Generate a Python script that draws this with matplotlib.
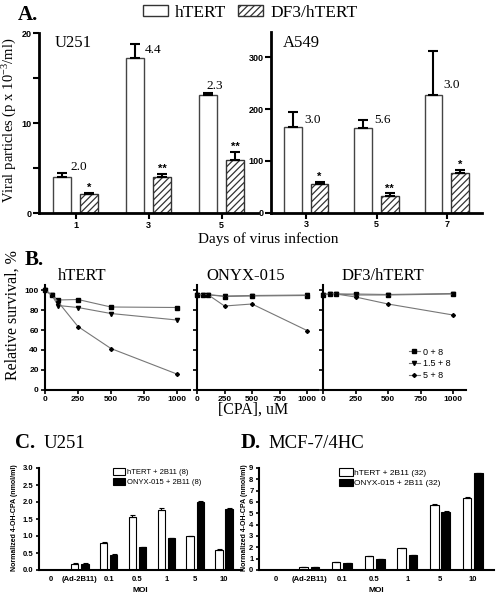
import numpy as np
import matplotlib
matplotlib.use('Agg')
import matplotlib.pyplot as plt
from matplotlib.patches import Patch
from matplotlib.lines import Line2D

plt.rcParams['font.family'] = 'Liberation Serif'
plt.rcParams['mathtext.default'] = 'regular'
plt.rcParams['hatch.linewidth'] = 0.9
SANS = 'Liberation Sans'

# ---- panel A: viral particles ----
u251_days = [1, 3, 5]
u251_htert = [4.0, 17.3, 13.1]
u251_htert_err = [0.5, 1.5, 0.3]
u251_df3 = [2.1, 4.0, 5.9]
u251_df3_err = [0.15, 0.4, 0.9]
u251_ratio = ['2.0', '4.4', '2.3']
u251_stars = ['*', '**', '**']

a549_days = [3, 5, 7]
a549_htert = [165, 163, 227]
a549_htert_err = [29, 16, 85]
a549_df3 = [56, 31, 77]
a549_df3_err = [3, 6, 6]
a549_ratio = ['3.0', '5.6', '3.0']
a549_stars = ['*', '**', '*']

# ---- panel B: relative survival ----
cpa = [0, 50, 100, 250, 500, 1000]
survival = {
    'hTERT': ([100, 95, 90, 90.5, 83, 82.5],
              [100, 95, 84.5, 82.5, 76.5, 70],
              [100, 95, 88, 63.5, 41.5, 16]),
    'ONYX-015': ([95.3, 95.3, 95.3, 93.5, 94, 94.5],
                 [95.3, 95.3, 95.3, 94, 94.5, 95],
                 [95.3, 95.3, 95.3, 84, 86, 59.5]),
    'DF3/hTERT': ([95.5, 96, 96, 96, 95.5, 96.5],
                  [95.5, 96, 96, 95, 95, 96],
                  [95.5, 96, 96, 93, 86, 75]),
}
dose_labels = ['0 + 8', '1.5 + 8', '5 + 8']

# ---- panels C, D: 4-OH-CPA ----
moi = ['0', '(Ad-2B11)', '0.1', '0.5', '1', '5', '10']
c_htert = [0, 0.19, 0.80, 1.57, 1.77, 0.99, 0.60]
c_htert_err = [0, 0.01, 0.01, 0.04, 0.05, 0.01, 0.03]
c_onyx = [0, 0.19, 0.45, 0.68, 0.93, 2.01, 1.80]
c_onyx_err = [0, 0.01, 0.01, 0.01, 0.01, 0.01, 0.01]
d_htert = [0, 0.28, 0.72, 1.2, 1.92, 5.7, 6.38]
d_htert_err = [0, 0.02, 0.03, 0.03, 0.05, 0.1, 0.04]
d_onyx = [0, 0.25, 0.6, 0.96, 1.32, 5.15, 8.55]
d_onyx_err = [0, 0.02, 0.02, 0.02, 0.02, 0.08, 0.05]

W, H = 496, 602
fig = plt.figure(figsize=(W / 100, H / 100), dpi=100)


def rect(l, t, r, b):
    return [l / W, 1 - b / H, (r - l) / W, (b - t) / H]


def style_axes(ax, lw):
    for s in ['top', 'right']:
        ax.spines[s].set_visible(False)
    for s in ['left', 'bottom']:
        ax.spines[s].set_linewidth(lw)


def tick_font(ax, size):
    for lab in ax.get_xticklabels() + ax.get_yticklabels():
        lab.set_fontfamily(SANS)
        lab.set_fontweight('bold')
        lab.set_fontsize(size)


def viral_panel(ax, days, htert, herr, df3, derr, ratios, stars, label_dx, label_y):
    x = np.array(days, dtype=float)
    n = len(days)
    ax.bar(x - 0.38, htert, 0.5, color='white', edgecolor='#444444', lw=1,
           yerr=[np.zeros(n), herr], capsize=3.5,
           error_kw=dict(elinewidth=1.5, capthick=1.5, ecolor='black'))
    ax.bar(x + 0.38, df3, 0.5, color='white', edgecolor='#333333', lw=1, hatch='/////',
           yerr=[np.zeros(n), derr], capsize=3.5,
           error_kw=dict(elinewidth=1.5, capthick=1.5, ecolor='black'))
    for i in range(n):
        ax.text(x[i] + label_dx[i], label_y[i], ratios[i], fontsize=9.5,
                ha='left', va='center')
        ax.text(x[i] + 0.38, df3[i] + derr[i], stars[i], fontsize=8,
                fontfamily=SANS, fontweight='bold', ha='center', va='bottom')
    style_axes(ax, 2)
    ax.tick_params(axis='both', width=1.5, length=4, pad=1.5)
    ax.set_xticks(days)


# A - U251
axA1 = fig.add_axes(rect(39, 33.3, 258, 213.3))
viral_panel(axA1, u251_days, u251_htert, u251_htert_err, u251_df3, u251_df3_err,
            u251_ratio, u251_stars, [-0.13, -0.1, -0.4], [5.1, 18.1, 14.1])
axA1.set_xlim(0, 6)
axA1.set_ylim(0, 20)
axA1.set_yticks([0, 10, 20])
axA1.set_yticks([5, 15], minor=True)
axA1.tick_params(axis='y', which='minor', width=1.5, length=4)
tick_font(axA1, 6.5)

# A - A549
axA2 = fig.add_axes(rect(271, 31.5, 482, 212.5))
viral_panel(axA2, a549_days, a549_htert, a549_htert_err, a549_df3, a549_df3_err,
            a549_ratio, a549_stars, [-0.05, -0.05, -0.1], [179, 179, 246])
axA2.set_xlim(2, 8)
axA2.set_ylim(0, 350)
axA2.set_yticks([0, 100, 200, 300])
tick_font(axA2, 6.5)

fig.text(18 / W, 1 - 15 / H, 'A.', fontsize=15, fontweight='bold', va='center', ha='left')
fig.text(55 / W, 1 - 43 / H, 'U251', fontsize=12, va='center', ha='left')
fig.text(283 / W, 1 - 43 / H, 'A549', fontsize=12, va='center', ha='left')
fig.text(268 / W, 1 - 239 / H, 'Days of virus infection', fontsize=11,
         ha='center', va='center')
fig.text(10 / W, 1 - 120 / H, 'Viral particles (p x 10$^{-3}$/ml)', fontsize=10.5,
         rotation=90, ha='center', va='center')
handles_a = [Patch(facecolor='white', edgecolor='#333333', lw=1),
             Patch(facecolor='white', edgecolor='#333333', lw=1, hatch='/////')]
fig.legend(handles_a, ['hTERT', 'DF3/hTERT'], loc='center', ncol=2,
           bbox_to_anchor=(250 / W, 1 - 13 / H), frameon=False, fontsize=12.5,
           handlelength=1.45, handleheight=0.6, handletextpad=0.4, columnspacing=0.7,
           borderpad=0)

# B - survival
b_rects = [(45, 190), (197, 318), (323, 466)]
b_title_x = [82, 246, 383]
markers = ['s', 'v', 'D']
msizes = [3.0, 3.0, 2.0]
for k, (name, (l, r)) in enumerate(zip(survival, b_rects)):
    ax = fig.add_axes(rect(l, 285, r, 390))
    for series, m, ms in zip(survival[name], markers, msizes):
        ax.plot(cpa, series, color='#777777', lw=0.8, marker=m, ms=ms,
                mfc='black', mec='black', clip_on=False)
    ax.set_xlim(0, 1100)
    ax.set_ylim(0, 105)
    ax.set_xticks([0, 250, 500, 750, 1000])
    ax.set_yticks([0, 20, 40, 60, 80, 100])
    style_axes(ax, 1.5)
    ax.tick_params(axis='both', width=1.2, length=3, pad=1.5)
    if k > 0:
        ax.set_yticklabels([])
    tick_font(ax, 6)
    fig.text(b_title_x[k] / W, 1 - 276 / H, name, fontsize=12,
             ha='center', va='center')

handles_b = [Line2D([], [], color='#777777', lw=0.8, marker=m, ms=ms, mfc='black', mec='black')
             for m, ms in zip(markers, msizes)]
fig.legend(handles_b, dose_labels, loc='upper left', bbox_to_anchor=(404 / W, 1 - 343 / H),
           frameon=False, prop={'family': SANS, 'size': 6.5}, handlelength=1.3,
           handletextpad=0.3, labelspacing=0.3, borderpad=0)
fig.text(25 / W, 1 - 260 / H, 'B.', fontsize=15, fontweight='bold', va='center', ha='left')
fig.text(13 / W, 1 - 315 / H, 'Relative survival, %', fontsize=11.5, rotation=90,
         ha='center', va='center')
fig.text(253 / W, 1 - 410 / H, '[CPA], uM', fontsize=11.5, ha='center', va='center')


# C, D - 4-OH-CPA
def cpa_panel(ax, htert, herr, onyx, oerr, ymax, yticks, fmt):
    x = np.arange(len(moi))
    n = len(moi)
    ek = dict(elinewidth=0.8, capthick=0.8, ecolor='black')
    ax.bar(x - 0.175, htert, 0.26, color='white', edgecolor='black', lw=0.8,
           yerr=[np.zeros(n), herr], capsize=1.8, error_kw=ek)
    ax.bar(x + 0.175, onyx, 0.26, color='black', edgecolor='black', lw=0.8,
           yerr=[np.zeros(n), oerr], capsize=1.8, error_kw=ek)
    ax.set_ylim(0, ymax)
    ax.set_yticks(yticks)
    ax.set_yticklabels([fmt % v for v in yticks])
    ax.set_xticks(x)
    ax.set_xticklabels(moi)
    style_axes(ax, 1.5)
    ax.tick_params(axis='y', width=1.2, length=2.5, pad=1.5)
    ax.tick_params(axis='x', length=0, pad=4)
    tick_font(ax, 5.5)
    ax.set_xlabel('MOI', fontfamily=SANS, fontweight='bold', fontsize=6, labelpad=3)


axC = fig.add_axes(rect(39, 468, 242, 570))
cpa_panel(axC, c_htert, c_htert_err, c_onyx, c_onyx_err, 3.0,
          [0, 0.5, 1.0, 1.5, 2.0, 2.5, 3.0], '%.1f')
axC.set_xlim(-0.41, 6.62)
axD = fig.add_axes(rect(259, 468, 494, 570))
cpa_panel(axD, d_htert, d_htert_err, d_onyx, d_onyx_err, 9,
          list(range(10)), '%d')
axD.set_xlim(-0.53, 6.65)

handles_c = [Patch(facecolor='white', edgecolor='black', lw=0.8),
             Patch(facecolor='black', edgecolor='black', lw=0.8)]
fig.legend(handles_c, ['hTERT + 2B11 (8)', 'ONYX-015 + 2B11 (8)'], loc='upper left',
           bbox_to_anchor=(109 / W, 1 - 464 / H), frameon=False,
           prop={'family': SANS, 'size': 5.5}, handlelength=1.6, handleheight=1.0,
           handletextpad=0.2, labelspacing=0.25, borderpad=0)
fig.legend(handles_c, ['hTERT + 2B11 (32)', 'ONYX-015 + 2B11 (32)'], loc='upper left',
           bbox_to_anchor=(335 / W, 1 - 464 / H), frameon=False,
           prop={'family': SANS, 'size': 6}, handlelength=1.6, handleheight=1.0,
           handletextpad=0.2, labelspacing=0.25, borderpad=0)

fig.text(15 / W, 1 - 443 / H, 'C.', fontsize=15, fontweight='bold', va='center', ha='left')
fig.text(44 / W, 1 - 443 / H, 'U251', fontsize=13.5, va='center', ha='left')
fig.text(241 / W, 1 - 443 / H, 'D.', fontsize=15, fontweight='bold', va='center', ha='left')
fig.text(268 / W, 1 - 443 / H, 'MCF-7/4HC', fontsize=13.5, va='center', ha='left')
for xl in [15, 244]:
    fig.text(xl / W, 1 - 518 / H, 'Normalized 4-OH-CPA (nmol/ml)', fontfamily=SANS,
             fontweight='bold', fontsize=5, rotation=90, ha='center', va='center')

fig.savefig('out.png', dpi=100)
